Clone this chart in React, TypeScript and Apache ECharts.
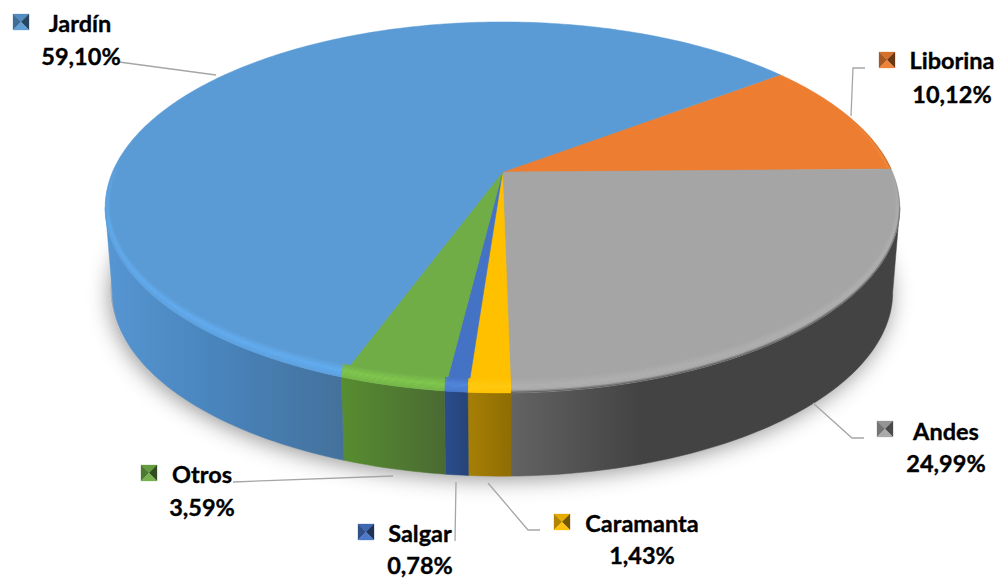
import React, { useEffect, useRef } from "react";
import * as echarts from "echarts";

// ---- data ----
const categories = ["Liborina", "Andes", "Caramanta", "Salgar", "Otros", "Jardín"];
const shares = [10.12, 24.99, 1.43, 0.78, 3.59, 59.1];
const shareLabels = ["10,12%", "24,99%", "1,43%", "0,78%", "3,59%", "59,10%"];

// ---- styles ----
const topColors = ["#ed7d31", "#a5a5a5", "#ffc000", "#4472c4", "#70ad47", "#5b9bd5"];
const rimColors = ["#f08a3c", "#b0b0b0", "#ffca10", "#5288dc", "#80c84e", "#62adf2"];
const edgeColors = ["#8a5a35", "#484848", "#ffc000", "#4472c4", "#70ad47", "#5b9bd5"];
const edgeAmount = [0.8, 0.85, 0, 0, 0, 0];
const rimFade = [[105, 160], [175, 215], [0, 1], [0, 1], [0, 1], [155, 225]];
const sideRange = [[780, 890], [511, 640], [468, 511], [445, 468], [344, 445], [105, 345]];
const sideStops = [
  ["#b05a20", "#a05020"],
  ["#636363", "#434343"],
  ["#a67f05", "#8f6d03"],
  ["#2b4c8c", "#264478"],
  ["#578c30", "#4a6a33"],
  ["#5696d3", "#4883ba", "#44719b"],
];

// ---- layout ----
const START_DEG = 52.6;
const CX = 502.5;
const K = 0.191;
const TOP_PLANE = { a: 390, b: 178.7, y0: 172 };
const BOTTOM_PLANE = { a: 383, b: 177.3, y0: 257 };
const SIDE_VISIBLE = [101, 259];
const RIM_W = 5;
const RIM_H = 14;
const RIM_BANDS = 12;
const FONT = "Lato";
const FONT_SIZE = 23.5;

const labelLayout = [
  { key: [879, 52], name: [952, 60], pct: [952, 94], line: [[865, 68], [853, 68], [851, 116]] },
  { key: [877, 421], name: [946, 431], pct: [946, 463], line: [[813, 403], [852, 438], [864, 438]] },
  { key: [554, 514], name: [642, 523], pct: [642, 555], line: [[488, 483], [528, 530], [540, 530]] },
  { key: [358, 524], name: [420, 533], pct: [420, 565], line: [[456, 482], [455, 541]] },
  { key: [141, 465], name: [202, 474], pct: [202, 507], line: [[393, 476], [233, 482]] },
  { key: [13, 14], name: [80, 23], pct: [81, 56], line: [[216, 75], [119, 62]] },
];

// ---- helpers ----
const total = shares.reduce((s, v) => s + v, 0);
const rad = (d: number) => (d * Math.PI) / 180;

function hex(c: string) {
  return [1, 3, 5].map((i) => parseInt(c.slice(i, i + 2), 16));
}
function mix(a: string, b: string, f: number) {
  const A = hex(a);
  const B = hex(b);
  return A.map((v, i) => Math.round(v + (B[i] - v) * f));
}
const css = (c: number[], alpha = 1) => `rgba(${c[0]},${c[1]},${c[2]},${alpha})`;
const mixCss = (a: string, b: string, f: number) => css(mix(a, b, f));

function project(plane: { a: number; b: number; y0: number }, deg: number) {
  const s = Math.sin(rad(deg));
  const Y = -Math.cos(rad(deg));
  const w = 1 - K * Y;
  return [CX + (plane.a * s) / w, plane.y0 + (plane.b * Y) / w];
}
function inset(deg: number, t: number) {
  const p = project(TOP_PLANE, deg);
  const s = Math.sin(rad(deg));
  const c = Math.cos(rad(deg));
  return [p[0] - t * RIM_W * s, p[1] - t * RIM_H * Math.max(0, -c)];
}
function sweep(from: number, to: number) {
  const list: number[] = [];
  const n = Math.max(2, Math.ceil(to - from));
  for (let i = 0; i <= n; i++) list.push(from + ((to - from) * i) / n);
  return list;
}
function sliceRange(value: number, index: number) {
  const before = shares.slice(0, index).reduce((s, v) => s + v, 0);
  const from = START_DEG + (before / total) * 360;
  return [from, from + (value / total) * 360];
}
function gradientX(i: number) {
  const stops = sideStops[i];
  return new echarts.graphic.LinearGradient(
    sideRange[i][0], 0, sideRange[i][1], 0,
    stops.map((color, j) => ({ offset: j / (stops.length - 1), color })),
    true
  );
}
function fadeY(i: number, color: number[]) {
  return new echarts.graphic.LinearGradient(
    0, rimFade[i][0], 0, rimFade[i][1],
    [
      { offset: 0, color: css(color, 0) },
      { offset: 1, color: css(color, 1) },
    ],
    true
  );
}
function rimProfile(t: number) {
  if (t < 0.5) return 0.35 + (0.65 * t) / 0.5;
  return (1 - t) / 0.5;
}

// ---- renderers ----
const renderShadow = () => {
  const pts: number[][] = [];
  for (let d = 0; d < 360; d += 2) {
    const p = project(BOTTOM_PLANE, d);
    pts.push([p[0] - 2, p[1] - 3]);
  }
  return {
    type: "polygon",
    shape: { points: pts },
    style: {
      fill: "#b0b0b0",
      shadowBlur: 22,
      shadowColor: "rgba(0,0,0,0.42)",
      shadowOffsetX: 0,
      shadowOffsetY: 6,
    },
  };
};

const renderSide = (params: any, api: any) => {
  const i = params.dataIndex;
  const [a0, a1] = sliceRange(api.value(1), i);
  const from = Math.max(a0, SIDE_VISIBLE[0]);
  const to = Math.min(a1, SIDE_VISIBLE[1]);
  if (to <= from) return null;
  const angles = sweep(from, to);
  const pts = [
    ...angles.map((d) => project(TOP_PLANE, d)),
    ...angles.slice().reverse().map((d) => project(BOTTOM_PLANE, d)),
  ];
  const fill = gradientX(i);
  return {
    type: "polygon",
    shape: { points: pts },
    style: { fill, stroke: fill, lineWidth: 0.5 },
  };
};

const renderTop = (params: any, api: any) => {
  const i = params.dataIndex;
  const [a0, a1] = sliceRange(api.value(1), i);
  const pts = [[CX, TOP_PLANE.y0], ...sweep(a0, a1).map((d) => project(TOP_PLANE, d))];
  return {
    type: "polygon",
    shape: { points: pts },
    style: { fill: topColors[i], stroke: topColors[i], lineWidth: 0.5 },
  };
};

const renderRim = (params: any, api: any) => {
  const i = params.dataIndex;
  const [a0, a1] = sliceRange(api.value(1), i);
  const angles = sweep(a0, a1);
  const children: any[] = [];
  for (let b = RIM_BANDS - 1; b >= 0; b--) {
    const t0 = b / RIM_BANDS;
    const t1 = (b + 1) / RIM_BANDS;
    const tm = (t0 + t1) / 2;
    const base = mix(topColors[i], rimColors[i], rimProfile(tm));
    const g = Math.max(0, 1 - tm / 0.22) * edgeAmount[i];
    const col = base.map((v, j) => Math.round(v + (hex(edgeColors[i])[j] - v) * g));
    const pts = [
      ...angles.map((d) => inset(d, t0 - 0.01)),
      ...angles.slice().reverse().map((d) => inset(d, t1)),
    ];
    children.push({
      type: "polygon",
      shape: { points: pts },
      style: { fill: fadeY(i, col) },
    });
  }
  return { type: "group", children };
};

const KEY = 16;
const renderLabel = (params: any) => {
  const i = params.dataIndex;
  const L = labelLayout[i];
  const [kx, ky] = L.key;
  const m = [kx + KEY / 2, ky + KEY / 2];
  const c = topColors[i];
  const tl = [kx, ky];
  const tr = [kx + KEY, ky];
  const br = [kx + KEY, ky + KEY];
  const bl = [kx, ky + KEY];
  const tri = (a: number[], b: number[], fill: string) => ({
    type: "polygon",
    shape: { points: [a, b, m] },
    style: { fill, stroke: fill, lineWidth: 0.3 },
  });
  const text = (pos: number[], s: string) => ({
    type: "text",
    style: {
      text: s,
      x: pos[0],
      y: pos[1],
      align: "center",
      verticalAlign: "middle",
      fill: "#000000",
      stroke: "#000000",
      lineWidth: 0.35,
      fontFamily: FONT,
      fontWeight: "bold",
      fontSize: FONT_SIZE,
    },
  });
  return {
    type: "group",
    children: [
      {
        type: "polyline",
        shape: { points: L.line },
        style: { fill: "none", stroke: "#a6a6a6", lineWidth: 1.3 },
      },
      tri(tl, tr, mixCss(c, "#000000", 0.1)),
      tri(tl, bl, mixCss(c, "#000000", 0.3)),
      tri(tr, br, mixCss(c, "#000000", 0.55)),
      tri(bl, br, mixCss(c, "#ffffff", 0.05)),
      text(L.name, categories[i]),
      text(L.pct, shareLabels[i]),
    ],
  };
};

export default function App() {
  const ref = useRef<HTMLDivElement>(null);
  useEffect(() => {
    const chart = echarts.init(ref.current!, null, { renderer: "svg" });
    const data = shares.map((v, i) => [i, v]);
    const layer = (id: string, renderItem: any, z: number, d: any = data) => ({
      id,
      type: "custom",
      coordinateSystem: "none",
      silent: true,
      z,
      renderItem,
      data: d,
      animation: false,
    });
    chart.setOption({
      animation: false,
      backgroundColor: "#ffffff",
      series: [
        layer("shadow", renderShadow, 1, [[0, 1]]),
        layer("side", renderSide, 2),
        layer("top", renderTop, 3),
        layer("rim", renderRim, 4),
        layer("labels", renderLabel, 5),
      ],
    });
    return () => chart.dispose();
  }, []);
  return (
    <div
      ref={ref}
      style={{ position: "absolute", left: 0, top: 0, width: 1005, height: 580 }}
    />
  );
}
